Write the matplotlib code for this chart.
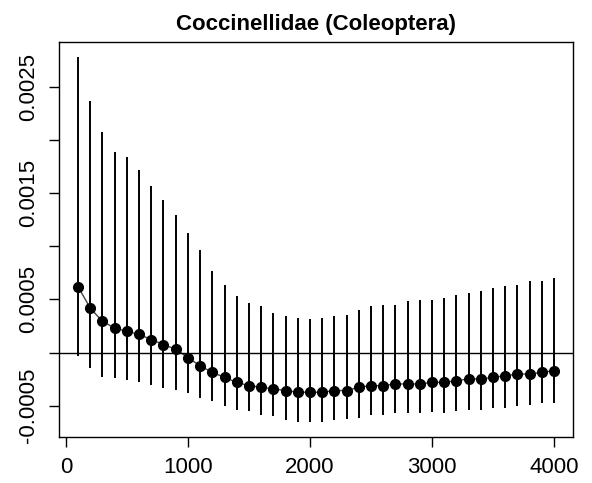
import numpy as np
import matplotlib
matplotlib.use("Agg")
import matplotlib.pyplot as plt

# distance classes (x) and estimates with interval bounds
dist = [100, 200, 300, 400, 500, 600, 700, 800, 900, 1000,
        1100, 1200, 1300, 1400, 1500, 1600, 1700, 1800, 1900, 2000,
        2100, 2200, 2300, 2400, 2500, 2600, 2700, 2800, 2900, 3000,
        3100, 3200, 3300, 3400, 3500, 3600, 3700, 3800, 3900, 4000]

est = [0.000620, 0.000418, 0.000293, 0.000231, 0.000199, 0.000171, 0.000122, 0.000075, 0.000031, -0.000047,
       -0.000125, -0.000187, -0.000234, -0.000281, -0.000312, -0.000327, -0.000343, -0.000358, -0.000374, -0.000374,
       -0.000374, -0.000358, -0.000358, -0.000327, -0.000312, -0.000312, -0.000296, -0.000296, -0.000296, -0.000281,
       -0.000281, -0.000265, -0.000249, -0.000249, -0.000234, -0.000218, -0.000203, -0.000203, -0.000187, -0.000171]

upper = [0.002787, 0.002366, 0.002076, 0.001889, 0.001839, 0.001721, 0.001565, 0.001440, 0.001300, 0.001128,
         0.000963, 0.000764, 0.000639, 0.000530, 0.000468, 0.000436, 0.000374, 0.000343, 0.000327, 0.000312,
         0.000327, 0.000343, 0.000358, 0.000405, 0.000436, 0.000452, 0.000452, 0.000483, 0.000499, 0.000499,
         0.000514, 0.000545, 0.000561, 0.000577, 0.000608, 0.000623, 0.000639, 0.000670, 0.000670, 0.000701]

lower = [-0.000034, -0.000150, -0.000228, -0.000243, -0.000259, -0.000274, -0.000305, -0.000337, -0.000352, -0.000383,
         -0.000430, -0.000461, -0.000508, -0.000539, -0.000555, -0.000586, -0.000602, -0.000633, -0.000658, -0.000658,
         -0.000658, -0.000639, -0.000627, -0.000617, -0.000586, -0.000586, -0.000570, -0.000570, -0.000570, -0.000564,
         -0.000570, -0.000555, -0.000539, -0.000539, -0.000524, -0.000524, -0.000508, -0.000492, -0.000477, -0.000477]

xticks = [0, 1000, 2000, 3000, 4000]
yticks = [-0.0005, 0.0, 0.0005, 0.0010, 0.0015, 0.0020, 0.0025]
ylabels = ["-0.0005", "", "0.0005", "", "0.0015", "", "0.0025"]

plt.rcParams['font.family'] = ['Liberation Sans', 'DejaVu Sans']

fig = plt.figure(figsize=(5.92, 4.83), dpi=100)
ax = fig.add_axes([0.0997, 0.0952, 0.8683, 0.8178])

ax.vlines(dist, lower, upper, color='black', linewidth=1.4)
ax.plot(dist, est, color='#444444', linewidth=1.0, marker='o', markersize=7,
        markerfacecolor='black', markeredgecolor='black')
ax.axhline(0, color='black', linewidth=1.0)

# R style 4% axis extension
xr = max(dist) - min(dist)
ax.set_xlim(min(dist) - 0.04 * xr, max(dist) + 0.04 * xr)
ymin, ymax = min(lower), max(upper)
yr = ymax - ymin
ax.set_ylim(ymin - 0.04 * yr, ymax + 0.04 * yr)

ax.set_xticks(xticks)
ax.set_xticklabels([str(t) for t in xticks])
ax.set_yticks(yticks)
ax.set_yticklabels(ylabels, rotation=90, va='center')
ax.tick_params(axis='both', direction='out', length=7.5, width=1.0, labelsize=16, pad=7)
ax.tick_params(axis='x', pad=7)

for s in ax.spines.values():
    s.set_linewidth(1.0)

ax.set_title("Coccinellidae (Coleoptera)", fontsize=16, fontweight='bold', pad=9)

fig.savefig("out.png", dpi=100)
